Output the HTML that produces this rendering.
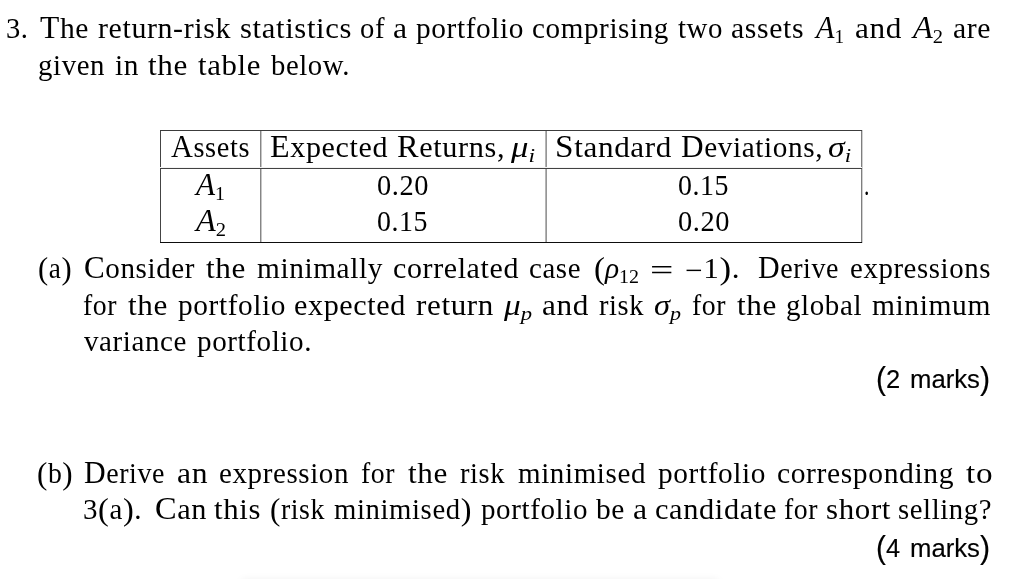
<!DOCTYPE html>
<html lang="en"><head><meta charset="utf-8"><title>Question 3</title>
<style>
html,body{margin:0;padding:0;background:#fff;}
body{width:1024px;height:579px;position:relative;overflow:hidden;color:#000;}
.w{position:absolute;white-space:nowrap;transform-origin:0 0;line-height:1;font-family:"Liberation Serif",serif;font-size:29.0px;}
.s{font-family:"Liberation Sans",sans-serif;font-size:26.0px;color:#000;-webkit-text-stroke:0.15px #000;}
.c{font-size:31.0px;line-height:0;}
.p{font-size:112%;line-height:0;position:relative;top:0.02em;}
.sb{font-size:68.0%;line-height:0;position:relative;top:0.250em;}
.sb .c{font-size:100%;}
.s .p{font-size:118%;top:0.03em;}
.o{position:relative;top:0.086em;line-height:0;}
.m{top:0.07em;}
i{font-style:italic;}
.h,.v{position:absolute;background:#444;}
</style></head>
<body>
<div class="v" style="left:160px;top:130px;width:1px;height:113px"></div>
<div class="v" style="left:260px;top:130px;width:1px;height:113px;background:#858585"></div>
<div class="v" style="left:261px;top:130px;width:1px;height:113px;background:#c6c6c6"></div>
<div class="v" style="left:545px;top:130px;width:1px;height:113px;background:#b4b4b4"></div>
<div class="v" style="left:546px;top:130px;width:1px;height:113px;background:#969696"></div>
<div class="v" style="left:861px;top:130px;width:1px;height:113px;background:#7e7e7e"></div>
<div class="v" style="left:862px;top:130px;width:1px;height:113px;background:#d0d0d0"></div>
<div class="h" style="left:160px;top:130px;width:702px;height:1px;background:#3c3c3c"></div>
<div class="h" style="left:160px;top:167px;width:702px;height:1px;background:#f4f4f4"></div>
<div class="h" style="left:160px;top:168px;width:702px;height:1px;background:#424242"></div>
<div class="h" style="left:160px;top:242px;width:702px;height:1px;background:#0d0d0d"></div>
<div style="position:absolute;left:245px;top:583px;width:470px;height:10px;box-shadow:0 0 9px 3px rgba(0,0,0,0.07)"></div>
<span class="w" id="l1_0" style="left:6px;top:14px;letter-spacing:0.600px;transform:scaleX(0.9830)">3.</span>
<span class="w" id="l1_1" style="left:40px;top:14px;letter-spacing:0.600px;transform:scaleX(1.0186)"><span class="c">T</span>he</span>
<span class="w" id="l1_2" style="left:98px;top:14px;letter-spacing:0.600px;transform:scaleX(1.0309)">return-risk</span>
<span class="w" id="l1_3" style="left:240px;top:14px;letter-spacing:0.600px;transform:scaleX(1.0580)">statistics</span>
<span class="w" id="l1_4" style="left:360px;top:14px;letter-spacing:0.600px;transform:scaleX(0.9875)">of</span>
<span class="w" id="l1_5" style="left:393px;top:14px;transform:scaleX(1.0939)">a</span>
<span class="w" id="l1_6" style="left:416px;top:14px;letter-spacing:0.600px;transform:scaleX(1.0105)">portfolio</span>
<span class="w" id="l1_7" style="left:532px;top:14px;letter-spacing:0.600px;transform:scaleX(1.0039)">comprising</span>
<span class="w" id="l1_8" style="left:678px;top:14px;letter-spacing:0.600px;transform:scaleX(0.9947)">two</span>
<span class="w" id="l1_9" style="left:731px;top:14px;letter-spacing:0.600px;transform:scaleX(1.0254)">assets</span>
<span class="w" id="l1_10" style="left:816px;top:14px;transform:scaleX(0.9735)"><i><span class="c">A</span></i><span class="sb">1</span></span>
<span class="w" id="l1_11" style="left:855px;top:14px;letter-spacing:0.600px;transform:scaleX(1.0783)">and</span>
<span class="w" id="l1_12" style="left:913px;top:14px;transform:scaleX(1.0429)"><i><span class="c">A</span></i><span class="sb">2</span></span>
<span class="w" id="l1_13" style="left:953px;top:14px;letter-spacing:0.600px;transform:scaleX(1.0246)">are</span>
<span class="w" id="l2_0" style="left:38px;top:51px;letter-spacing:0.600px;transform:scaleX(0.9945)">given</span>
<span class="w" id="l2_1" style="left:115px;top:51px;letter-spacing:0.600px;transform:scaleX(1.0118)">in</span>
<span class="w" id="l2_2" style="left:148px;top:51px;letter-spacing:0.600px;transform:scaleX(1.0750)">the</span>
<span class="w" id="l2_3" style="left:198px;top:51px;letter-spacing:0.600px;transform:scaleX(1.0616)">table</span>
<span class="w" id="l2_4" style="left:271px;top:51px;letter-spacing:0.600px;transform:scaleX(0.9901)">below.</span>
<span class="w" id="th_1" style="left:171px;top:133px;letter-spacing:0.600px;transform:scaleX(0.9779)"><span class="c">A</span>ssets</span>
<span class="w" id="th_3" style="left:270px;top:133px;letter-spacing:0.600px;transform:scaleX(1.0361)"><span class="c">E</span>xpected</span>
<span class="w" id="th_4" style="left:397px;top:133px;letter-spacing:0.600px;transform:scaleX(1.0432)"><span class="c">R</span>eturns,</span>
<span class="w" id="th_5" style="left:511px;top:133px;transform:scaleX(1.1995)"><i>μ</i><span class="sb"><i>i</i></span></span>
<span class="w" id="th_7" style="left:555px;top:133px;letter-spacing:0.600px;transform:scaleX(1.0740)"><span class="c">S</span>tandard</span>
<span class="w" id="th_8" style="left:681px;top:133px;letter-spacing:0.600px;transform:scaleX(1.0079)"><span class="c">D</span>eviations,</span>
<span class="w" id="th_9" style="left:828px;top:133px;transform:scaleX(1.1642)"><i>σ</i><span class="sb"><i>i</i></span></span>
<span class="w" id="r1_1" style="left:196px;top:171px;transform:scaleX(1.0082)"><i><span class="c">A</span></i><span class="sb">1</span></span>
<span class="w" id="r1_3" style="left:377px;top:171px;letter-spacing:0.600px;transform:scaleX(0.9798)">0.20</span>
<span class="w" id="r1_5" style="left:678px;top:171px;letter-spacing:0.600px;transform:scaleX(0.9610)">0.15</span>
<span class="w" id="r1_6" style="left:864px;top:171px;transform:scaleX(0.7448)">.</span>
<span class="w" id="r2_1" style="left:196px;top:207px;transform:scaleX(1.0429)"><i><span class="c">A</span></i><span class="sb">2</span></span>
<span class="w" id="r2_3" style="left:377px;top:207px;letter-spacing:0.600px;transform:scaleX(0.9610)">0.15</span>
<span class="w" id="r2_5" style="left:678px;top:207px;letter-spacing:0.600px;transform:scaleX(0.9798)">0.20</span>
<span class="w" id="a1_0" style="left:38px;top:254px;letter-spacing:0.600px;transform:scaleX(0.9396)"><span class="p">(</span>a<span class="p">)</span></span>
<span class="w" id="a1_1" style="left:84px;top:254px;letter-spacing:0.600px;transform:scaleX(1.0015)"><span class="c">C</span>onsider</span>
<span class="w" id="a1_2" style="left:206px;top:254px;letter-spacing:0.600px;transform:scaleX(1.0750)">the</span>
<span class="w" id="a1_3" style="left:257px;top:254px;letter-spacing:0.600px;transform:scaleX(1.0112)">minimally</span>
<span class="w" id="a1_4" style="left:393px;top:254px;letter-spacing:0.600px;transform:scaleX(1.0337)">correlated</span>
<span class="w" id="a1_5" style="left:529px;top:254px;letter-spacing:0.600px;transform:scaleX(0.9956)">case</span>
<span class="w" id="a1_6" style="left:594px;top:254px;transform:scaleX(1.0149)"><span class="p">(</span><i>ρ</i><span class="sb">12</span></span>
<span class="w" id="a1_7" style="left:650px;top:254px;transform:scaleX(1.4299)"><span class="o">=</span></span>
<span class="w" id="a1_8" style="left:685px;top:254px;letter-spacing:0.600px;transform:scaleX(1.0745)"><span class="o m">−</span>1<span class="p">)</span>.</span>
<span class="w" id="a1_9" style="left:758px;top:254px;letter-spacing:0.600px;transform:scaleX(0.9653)"><span class="c">D</span>erive</span>
<span class="w" id="a1_10" style="left:850px;top:254px;letter-spacing:0.600px;transform:scaleX(0.9939)">expressions</span>
<span class="w" id="a2_0" style="left:83px;top:291px;letter-spacing:0.600px;transform:scaleX(0.9571)">for</span>
<span class="w" id="a2_1" style="left:128px;top:291px;letter-spacing:0.600px;transform:scaleX(1.0750)">the</span>
<span class="w" id="a2_2" style="left:178px;top:291px;letter-spacing:0.600px;transform:scaleX(1.0105)">portfolio</span>
<span class="w" id="a2_3" style="left:294px;top:291px;letter-spacing:0.600px;transform:scaleX(1.0389)">expected</span>
<span class="w" id="a2_4" style="left:416px;top:291px;letter-spacing:0.600px;transform:scaleX(1.0710)">return</span>
<span class="w" id="a2_5" style="left:504px;top:291px;transform:scaleX(1.1497)"><i>μ</i><span class="sb"><i>p</i></span></span>
<span class="w" id="a2_6" style="left:542px;top:291px;letter-spacing:0.600px;transform:scaleX(1.0783)">and</span>
<span class="w" id="a2_7" style="left:599px;top:291px;letter-spacing:0.600px;transform:scaleX(0.9803)">risk</span>
<span class="w" id="a2_8" style="left:654px;top:291px;transform:scaleX(1.1187)"><i>σ</i><span class="sb"><i>p</i></span></span>
<span class="w" id="a2_9" style="left:692px;top:291px;letter-spacing:0.600px;transform:scaleX(0.9571)">for</span>
<span class="w" id="a2_10" style="left:737px;top:291px;letter-spacing:0.600px;transform:scaleX(1.0750)">the</span>
<span class="w" id="a2_11" style="left:786px;top:291px;letter-spacing:0.600px;transform:scaleX(0.9995)">global</span>
<span class="w" id="a2_12" style="left:872px;top:291px;letter-spacing:0.600px;transform:scaleX(1.0172)">minimum</span>
<span class="w" id="a3_0" style="left:84px;top:327px;letter-spacing:0.600px;transform:scaleX(0.9999)">variance</span>
<span class="w" id="a3_1" style="left:197px;top:327px;letter-spacing:0.600px;transform:scaleX(1.0025)">portfolio.</span>
<span class="w s" id="m2_0" style="left:876px;top:366px;transform:scaleX(0.9803)"><span class="p">(</span>2</span>
<span class="w s" id="m2_1" style="left:910px;top:366px;transform:scaleX(0.9883)">marks<span class="p">)</span></span>
<span class="w" id="b1_0" style="left:37px;top:459px;letter-spacing:0.600px;transform:scaleX(0.9564)"><span class="p">(</span>b<span class="p">)</span></span>
<span class="w" id="b1_1" style="left:84px;top:459px;letter-spacing:0.600px;transform:scaleX(0.9653)"><span class="c">D</span>erive</span>
<span class="w" id="b1_2" style="left:177px;top:459px;letter-spacing:0.600px;transform:scaleX(1.0899)">an</span>
<span class="w" id="b1_3" style="left:219px;top:459px;letter-spacing:0.600px;transform:scaleX(1.0000)">expression</span>
<span class="w" id="b1_4" style="left:361px;top:459px;letter-spacing:0.600px;transform:scaleX(0.9571)">for</span>
<span class="w" id="b1_5" style="left:408px;top:459px;letter-spacing:0.600px;transform:scaleX(1.0750)">the</span>
<span class="w" id="b1_6" style="left:460px;top:459px;letter-spacing:0.600px;transform:scaleX(0.9803)">risk</span>
<span class="w" id="b1_7" style="left:518px;top:459px;letter-spacing:0.600px;transform:scaleX(1.0013)">minimised</span>
<span class="w" id="b1_8" style="left:658px;top:459px;letter-spacing:0.600px;transform:scaleX(1.0105)">portfolio</span>
<span class="w" id="b1_9" style="left:777px;top:459px;letter-spacing:0.600px;transform:scaleX(1.0191)">corresponding</span>
<span class="w" id="b1_10" style="left:966px;top:459px;letter-spacing:0.600px;transform:scaleX(1.1452)">to</span>
<span class="w" id="b2_0" style="left:83px;top:495px;letter-spacing:0.600px;transform:scaleX(0.9979)">3<span class="p">(</span>a<span class="p">)</span>.</span>
<span class="w" id="b2_1" style="left:155px;top:495px;letter-spacing:0.600px;transform:scaleX(1.0446)"><span class="c">C</span>an</span>
<span class="w" id="b2_2" style="left:214px;top:495px;letter-spacing:0.600px;transform:scaleX(1.0612)">this</span>
<span class="w" id="b2_3" style="left:270px;top:495px;letter-spacing:0.600px;transform:scaleX(0.9597)"><span class="p">(</span>risk</span>
<span class="w" id="b2_4" style="left:334px;top:495px;letter-spacing:0.600px;transform:scaleX(0.9911)">minimised<span class="p">)</span></span>
<span class="w" id="b2_5" style="left:481px;top:495px;letter-spacing:0.600px;transform:scaleX(1.0011)">portfolio</span>
<span class="w" id="b2_6" style="left:596px;top:495px;letter-spacing:0.600px;transform:scaleX(1.0161)">be</span>
<span class="w" id="b2_7" style="left:633px;top:495px;transform:scaleX(1.0939)">a</span>
<span class="w" id="b2_8" style="left:655px;top:495px;letter-spacing:0.600px;transform:scaleX(1.0476)">candidate</span>
<span class="w" id="b2_9" style="left:784px;top:495px;letter-spacing:0.600px;transform:scaleX(0.9571)">for</span>
<span class="w" id="b2_10" style="left:826px;top:495px;letter-spacing:0.600px;transform:scaleX(1.0666)">short</span>
<span class="w" id="b2_11" style="left:898px;top:495px;letter-spacing:0.600px;transform:scaleX(0.9905)">selling?</span>
<span class="w s" id="m4_0" style="left:876px;top:535px;transform:scaleX(0.9740)"><span class="p">(</span>4</span>
<span class="w s" id="m4_1" style="left:910px;top:535px;transform:scaleX(0.9883)">marks<span class="p">)</span></span>
</body></html>
